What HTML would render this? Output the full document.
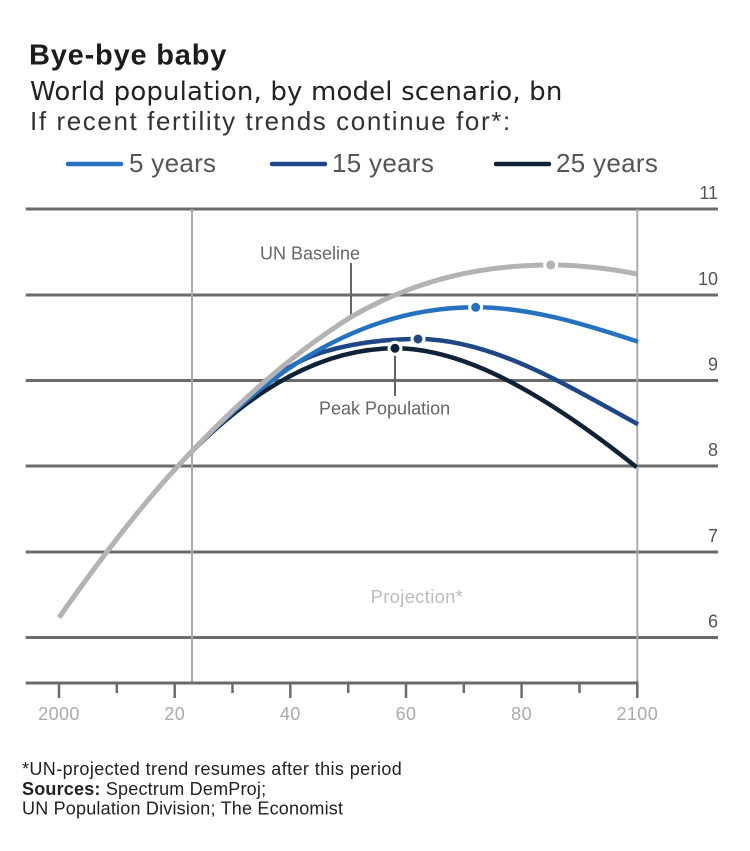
<!DOCTYPE html>
<html>
<head>
<meta charset="utf-8">
<style>
html,body{margin:0;padding:0;background:#fff;}
svg{display:block;}
text{font-family:"Liberation Sans",sans-serif;}
</style>
</head>
<body>
<svg width="750" height="851" viewBox="0 0 750 851" xmlns="http://www.w3.org/2000/svg">
<rect width="750" height="851" fill="#fff"/>

<!-- Titles -->
<text x="29" y="64.3" font-size="29" font-weight="bold" fill="#1c1c1c" letter-spacing="0.8">Bye-bye baby</text>
<text x="30" y="100" font-size="26" fill="#222" letter-spacing="0.15" style="font-family:'DejaVu Sans',sans-serif">World population, by model scenario, bn</text>
<text x="30" y="130" font-size="26" fill="#333" letter-spacing="1.6">If recent fertility trends continue for*:</text>

<!-- Legend -->
<line x1="68" y1="164" x2="121" y2="164" stroke="#2573c0" stroke-width="4.5" stroke-linecap="round"/>
<text x="129" y="172" font-size="26" fill="#555" letter-spacing="0.3">5 years</text>
<line x1="272" y1="164" x2="325" y2="164" stroke="#1f4787" stroke-width="4.5" stroke-linecap="round"/>
<text x="332" y="172" font-size="26" fill="#555" letter-spacing="0.3">15 years</text>
<line x1="496" y1="164" x2="549" y2="164" stroke="#0f2236" stroke-width="4.5" stroke-linecap="round"/>
<text x="556" y="172" font-size="26" fill="#555" letter-spacing="0.3">25 years</text>

<!-- Gridlines -->
<g stroke="#6b6b6b" stroke-width="3">
<line x1="25.7" y1="209" x2="718" y2="209"/>
<line x1="25.7" y1="295" x2="718" y2="295"/>
<line x1="25.7" y1="380.5" x2="718" y2="380.5"/>
<line x1="25.7" y1="466" x2="718" y2="466"/>
<line x1="25.7" y1="552" x2="718" y2="552"/>
<line x1="25.7" y1="637.5" x2="718" y2="637.5"/>
</g>

<!-- Vertical reference lines -->
<g stroke="#ababab" stroke-width="2">
<line x1="192" y1="209" x2="192" y2="683"/>
<line x1="637.3" y1="209" x2="637.3" y2="683"/>
</g>

<!-- Y labels -->
<g font-size="18" fill="#555" text-anchor="end">
<text x="718" y="199">11</text>
<text x="718" y="285">10</text>
<text x="718" y="370.5">9</text>
<text x="718" y="456">8</text>
<text x="718" y="542">7</text>
<text x="718" y="627.5">6</text>
</g>

<!-- X axis -->
<line x1="25.7" y1="683" x2="638.5" y2="683" stroke="#6b6b6b" stroke-width="3"/>
<g stroke="#6b6b6b" stroke-width="2.5">
<line x1="59" y1="683" x2="59" y2="698"/>
<line x1="116.8" y1="683" x2="116.8" y2="693"/>
<line x1="174.7" y1="683" x2="174.7" y2="698"/>
<line x1="232.5" y1="683" x2="232.5" y2="693"/>
<line x1="290.3" y1="683" x2="290.3" y2="698"/>
<line x1="348.2" y1="683" x2="348.2" y2="693"/>
<line x1="406" y1="683" x2="406" y2="698"/>
<line x1="463.8" y1="683" x2="463.8" y2="693"/>
<line x1="521.6" y1="683" x2="521.6" y2="698"/>
<line x1="579.5" y1="683" x2="579.5" y2="693"/>
<line x1="637.3" y1="683" x2="637.3" y2="698"/>
</g>
<g font-size="18" fill="#aaa" text-anchor="middle" letter-spacing="0.4">
<text x="59" y="720">2000</text>
<text x="174.7" y="720">20</text>
<text x="290.3" y="720">40</text>
<text x="406" y="720">60</text>
<text x="521.6" y="720">80</text>
<text x="637.3" y="720">2100</text>
</g>

<!-- Projection label -->
<text x="417" y="603" font-size="18" fill="#bbb" text-anchor="middle" letter-spacing="0.5">Projection*</text>

<!-- Annotations -->
<text x="310" y="259.3" font-size="18" fill="#666" text-anchor="middle">UN Baseline</text>
<line x1="351" y1="263" x2="351" y2="317" stroke="#666" stroke-width="2"/>
<text x="319" y="414.3" font-size="18" fill="#666">Peak Population</text>
<line x1="395" y1="352" x2="395" y2="396" stroke="#666" stroke-width="2"/>

<!-- Series -->
<g fill="none" stroke-width="4.5" stroke-linecap="butt">
<!-- 25 years -->
<path stroke="#0f2236" d="M178,466 C250.3,388.3 322.7,348.3 395,348.3 C465,348.3 546.7,395.3 636.7,467.3"/>
<!-- 15 years -->
<path stroke="#1f4787" d="M178,466 C226.43,413.94 274.87,366.5 323.3,352 C354.87,342.5 386.43,339 418,339 C491,339 565,384.2 638,424.3"/>
<!-- 5 years -->
<path stroke="#2573c0" d="M178,466 C283,353.1 376.7,307.3 475.7,307.3 C529.7,307.3 584,323.9 638,341.7"/>
<!-- UN baseline -->
<path stroke="#b3b3b3" stroke-width="5" d="M59,617.5 C98.67,561.2 138.33,508.6 178,466 C235.67,404 293.33,352.8 351,317 C417.57,278.4 484.13,265 550.7,265 C579.5,265 608.2,268.2 637,274"/>
</g>

<!-- Peak markers -->
<g stroke="#fff" stroke-width="3">
<circle cx="550.7" cy="265" r="6" fill="#b3b3b3"/>
<circle cx="475.7" cy="307.3" r="6" fill="#2573c0"/>
<circle cx="418" cy="339" r="6" fill="#1f4787"/>
<circle cx="395" cy="348.3" r="6" fill="#0f2236"/>
</g>

<!-- Footnotes -->
<text x="22" y="775" font-size="18" fill="#222" letter-spacing="0.4">*UN-projected trend resumes after this period</text>
<text x="22" y="795" font-size="18" fill="#222" letter-spacing="0.2"><tspan font-weight="bold">Sources:</tspan> Spectrum DemProj;</text>
<text x="22" y="814.3" font-size="18" fill="#222" letter-spacing="0.2">UN Population Division; The Economist</text>
</svg>
</body>
</html>
